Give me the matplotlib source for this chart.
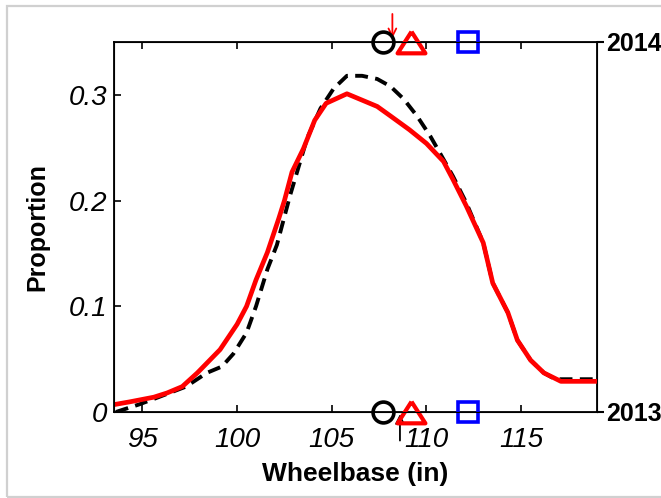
import matplotlib
matplotlib.use("Agg")
from matplotlib import pyplot as plt
from matplotlib.patches import Rectangle

plt.rcParams["font.family"] = ["Liberation Sans", "DejaVu Sans"]

# Wheelbase distributions (solid red and dashed black curves)
red_x = [93.5, 94.3, 95.6, 96.3, 97.1, 97.9, 99.1, 100.0, 100.5, 101.0, 101.6,
         102.2, 102.5, 102.9, 103.5, 104.1, 104.7, 105.8, 107.4, 108.1, 109.1,
         110.0, 110.9, 111.4, 112.1, 113.0, 113.5, 114.3, 114.8, 115.5, 116.2,
         117.1, 119.0]
red_y = [0.007, 0.0095, 0.014, 0.018, 0.024, 0.037, 0.059, 0.083, 0.100, 0.125,
         0.151, 0.183, 0.200, 0.227, 0.249, 0.276, 0.292, 0.301, 0.289, 0.280,
         0.267, 0.254, 0.237, 0.220, 0.195, 0.160, 0.122, 0.094, 0.068, 0.049,
         0.037, 0.029, 0.029]

black_x = [93.6, 94.8, 95.7, 97.3, 98.4, 99.2, 99.8, 100.5, 101.0, 101.6, 102.1,
           102.8, 103.7, 104.4, 105.1, 105.8, 106.6, 107.4, 108.1, 108.8, 109.5,
           110.2, 110.9, 111.4, 112.1, 113.0, 113.5, 114.3, 114.8, 115.5, 116.2,
           116.8, 119.0]
black_y = [0.000, 0.007, 0.013, 0.024, 0.037, 0.043, 0.055, 0.075, 0.100, 0.135,
           0.158, 0.205, 0.259, 0.287, 0.306, 0.318, 0.318, 0.315, 0.308, 0.296,
           0.280, 0.261, 0.239, 0.223, 0.198, 0.160, 0.122, 0.094, 0.068, 0.049,
           0.037, 0.031, 0.031]

# Summary markers for each year (circle, triangle, square)
circle_x = 107.7
triangle_x = 109.2
square_x = 112.2
red_arrow_x = 108.2
black_arrow_x = 108.6

x_ticks = [95, 100, 105, 110, 115]
y_ticks = [0, 0.1, 0.2, 0.3]
y_tick_labels = ["0", "0.1", "0.2", "0.3"]
year_labels = ["2013", "2014"]

X_MIN, X_MAX = 93.5, 119.0
Y_MIN, Y_MAX = 0.0, 0.35


def main() -> None:
    fig = plt.figure(figsize=(6.61, 4.98), dpi=100)
    ax = fig.add_axes([0.1725, 0.1727, 0.7305, 0.743])

    # Light grey frame round the whole figure
    fig.patches.append(Rectangle((7 / 661, 1 / 498), 1.0, 491 / 498,
                                 transform=fig.transFigure, fill=False,
                                 edgecolor="#d0d0d0", linewidth=1.6))

    ax.plot(black_x, black_y, color="black", linewidth=2.8,
            linestyle=(0, (3.3, 1.9)), zorder=3)
    ax.plot(red_x, red_y, color="red", linewidth=3.4, zorder=4)

    # Wide, flat triangle (closed path)
    tri = [(0, 0.78), (-1, -0.78), (1, -0.78), (0, 0.78)]
    for y in (Y_MIN, Y_MAX):
        ax.plot(circle_x, y, marker="o", ms=15, mfc="none", mec="black",
                mew=2.6, clip_on=False, zorder=5)
        ax.plot(triangle_x, y, marker=tri, ms=20, mfc="none", mec="red",
                mew=3.0, clip_on=False, zorder=5)
        ax.plot(square_x, y, marker="s", ms=14, mfc="none", mec="blue",
                mew=2.6, clip_on=False, zorder=5)

    ax.annotate("", xy=(red_arrow_x, 0.3535), xytext=(red_arrow_x, 0.3765),
                arrowprops=dict(arrowstyle="->", color="red", lw=1.3,
                                shrinkA=0, shrinkB=0, mutation_scale=14),
                annotation_clip=False)
    ax.annotate("", xy=(black_arrow_x, -0.002), xytext=(black_arrow_x, -0.027),
                arrowprops=dict(arrowstyle="->", color="black", lw=1.3,
                                shrinkA=0, shrinkB=0, mutation_scale=14),
                annotation_clip=False)

    ax.set_xlim(X_MIN, X_MAX)
    ax.set_ylim(Y_MIN, Y_MAX)
    ax.set_xticks(x_ticks)
    ax.set_xticklabels([str(v) for v in x_ticks], fontsize=20, style="italic")
    ax.set_yticks(y_ticks)
    ax.set_yticklabels(y_tick_labels, fontsize=20, style="italic")
    ax.tick_params(direction="in", length=5, width=1.2, top=True, right=True,
                   pad=5)
    ax.tick_params(axis="x", pad=11)
    for spine in ax.spines.values():
        spine.set_linewidth(1.3)

    # Year labels on the right-hand axis
    ax2 = ax.twinx()
    ax2.set_ylim(Y_MIN, Y_MAX)
    ax2.set_yticks([Y_MIN, Y_MAX])
    ax2.set_yticklabels(year_labels, fontsize=18, fontweight="bold")
    ax2.tick_params(direction="out", length=5, width=1.5, pad=2)

    ax.set_xlabel("Wheelbase (in)", fontsize=19, fontweight="bold", labelpad=6)
    ax.set_ylabel("Proportion", fontsize=18, fontweight="bold", labelpad=14)

    fig.savefig("out.png", dpi=100)


if __name__ == "__main__":
    main()
